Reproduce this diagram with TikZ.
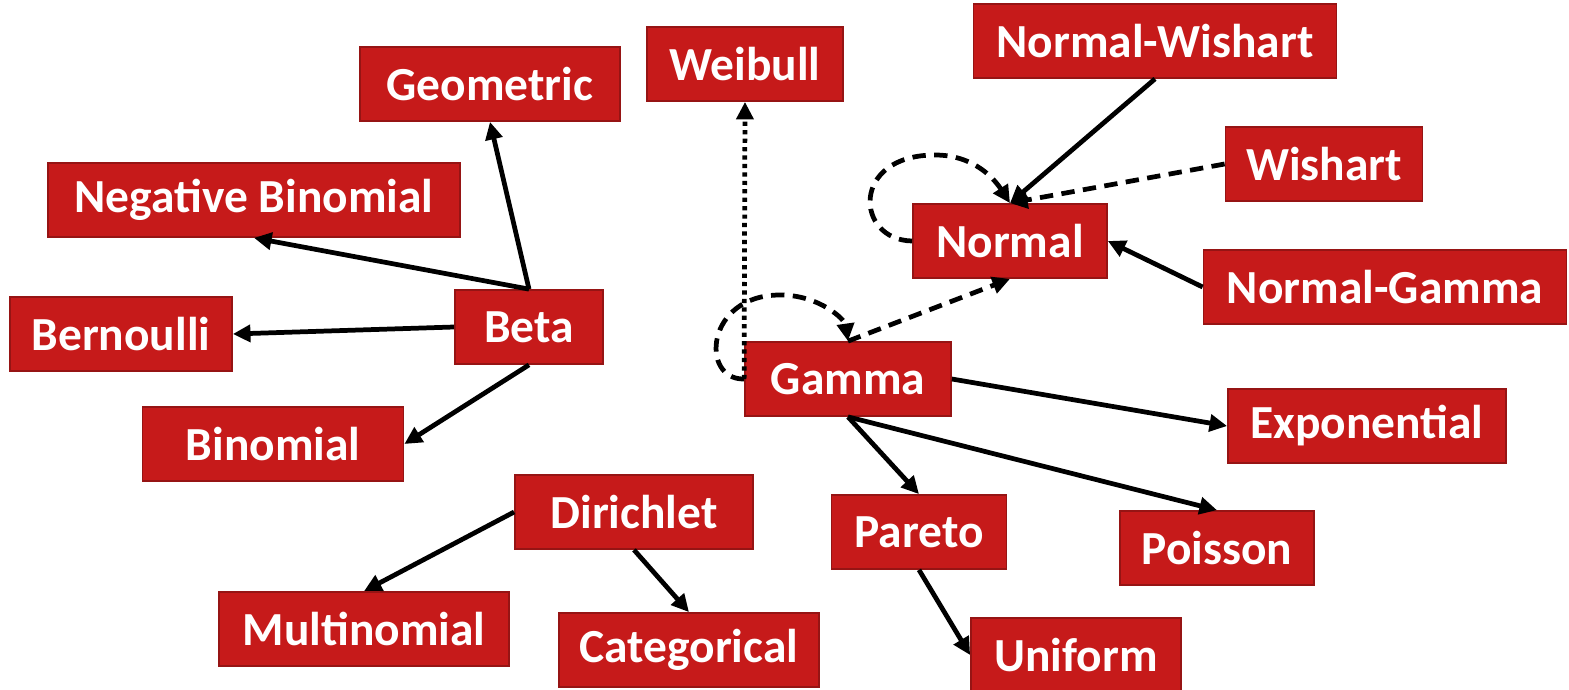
\documentclass[tikz,border=0pt]{standalone}
\usepackage{fontspec}
\setmainfont{Carlito}
\usetikzlibrary{arrows.meta}
\definecolor{RougeBoite}{RGB}{198,26,26}
\definecolor{RougeBord}{RGB}{150,20,20}
\tikzset{loi/.style={rectangle, draw=RougeBord, fill=RougeBoite, line width=0.5pt,
  text=white, font=\fontsize{13.5}{16}\selectfont\bfseries,
  minimum height=0.74cm, inner sep=0pt}}
\tikzset{fl/.style={-{Triangle[length=5pt, width=4.8pt]}, draw=black, line width=1.35pt}}
\tikzset{fld/.style={fl, dash pattern=on 3.8pt off 2.4pt}}
\tikzset{flp/.style={fl, dash pattern=on 1.2pt off 1.2pt}}

\begin{document}
\begin{tikzpicture}
\useasboundingbox (0,0) rectangle (15.69,-6.90);
% left group
\node[loi, minimum width=2.60cm] (geo) at (4.90,-0.84) {Geometric};
\node[loi, minimum width=4.12cm] (negbin) at (2.54,-2.00) {Negative Binomial};
\node[loi, minimum width=2.22cm] (bern) at (1.21,-3.34) {Bernoulli};
\node[loi, minimum width=1.48cm] (beta) at (5.29,-3.27) {Beta};
\node[loi, minimum width=2.61cm] (binom) at (2.73,-4.44) {Binomial};
\node[loi, minimum width=2.38cm] (dir) at (6.34,-5.12) {Dirichlet};
\node[loi, minimum width=2.90cm] (multi) at (3.64,-6.29) {Multinomial};
\node[loi, minimum width=2.60cm] (cat) at (6.89,-6.50) {Categorical};
% right group
\node[loi, minimum width=1.96cm] (weib) at (7.45,-0.64) {Weibull};
\node[loi, minimum width=3.63cm] (nw) at (11.55,-0.41) {Normal-Wishart};
\node[loi, minimum width=1.97cm] (wish) at (13.24,-1.64) {Wishart};
\node[loi, minimum width=1.94cm] (norm) at (10.10,-2.41) {Normal};
\node[loi, minimum width=3.63cm] (ng) at (13.85,-2.87) {Normal-Gamma};
\node[loi, minimum width=2.06cm] (gam) at (8.48,-3.79) {Gamma};
\node[loi, minimum width=2.78cm] (expo) at (13.67,-4.26) {Exponential};
\node[loi, minimum width=1.75cm] (par) at (9.19,-5.32) {Pareto};
\node[loi, minimum width=1.94cm] (poi) at (12.17,-5.48) {Poisson};
\node[loi, minimum width=2.10cm] (unif) at (10.76,-6.55) {Uniform};
% Beta and Dirichlet
\draw[fl] (beta.north) -- (geo.south);
\draw[fl] (beta.north) -- (negbin.south);
\draw[fl] (beta.west) -- (bern.east);
\draw[fl] (beta.south) -- (binom.east);
\draw[fl] (dir.west) -- (multi.north);
\draw[fl] (dir.south) -- (cat.north);
% Gamma and Normal
\draw[flp] (gam.west) -- (weib.south);
\draw[fld] (gam.west) .. controls (7.00,-3.80) and (7.05,-2.95) .. (7.80,-2.95)
  .. controls (8.20,-2.95) and (8.45,-3.20) .. (gam.north);
\draw[fld] (gam.north) -- (norm.south);
\draw[fld] (norm.west) .. controls (8.55,-2.40) and (8.50,-1.55) .. (9.35,-1.55)
  .. controls (9.75,-1.55) and (9.95,-1.80) .. (norm.north);
\draw[fl] (nw.south) -- (norm.north);
\draw[fld] (wish.west) -- (norm.north);
\draw[fl] (ng.west) -- (norm.east);
\draw[fl] (gam.east) -- (expo.west);
\draw[fl] (gam.south) -- (par.north);
\draw[fl] (gam.south) -- (poi.north);
\draw[fl] (par.south) -- (unif.west);
\end{tikzpicture}
\end{document}
